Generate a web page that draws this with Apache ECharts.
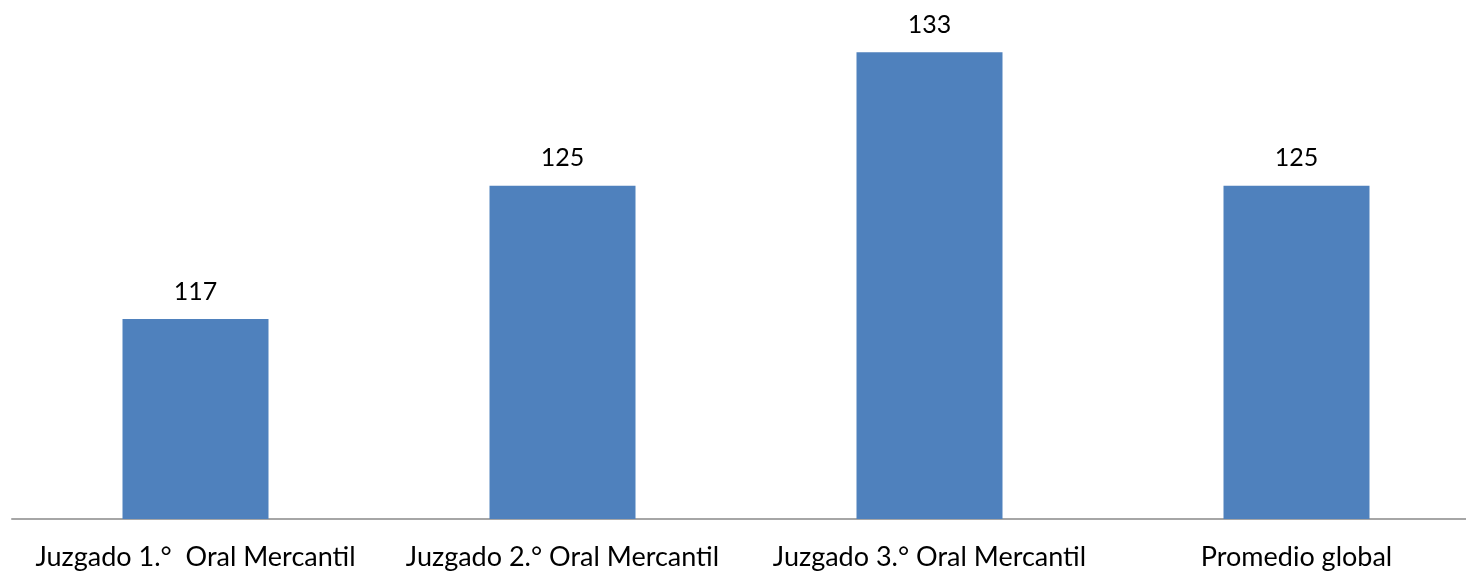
<!DOCTYPE html>
<html>
<head>
<meta charset="utf-8">
<script src="https://cdn.jsdelivr.net/npm/echarts@6/dist/echarts.min.js"></script>
<style>
  html, body { margin: 0; padding: 0; background: #fff; overflow: hidden; }
  #main { width: 1480px; height: 571px; }
</style>
</head>
<body>
<div id="main"></div>
<script>
// categorias y valores
var categories = [
  "Juzgado 1.°  Oral Mercantil",
  "Juzgado 2.° Oral Mercantil",
  "Juzgado 3.° Oral Mercantil",
  "Promedio global"
];
var values = [117, 125, 133, 125];

var myChart = echarts.init(document.getElementById("main"));

var option = {
  animation: false,
  textStyle: { fontFamily: "Lato, 'Open Sans', sans-serif" },
  // el area del grafico continua un poco fuera del borde derecho
  grid: { left: 12, top: 19, right: 0, bottom: 52, containLabel: false },
  xAxis: {
    type: "category",
    data: categories,
    axisLine: { show: true, lineStyle: { color: "#a6a6a6", width: 2 } },
    axisTick: { show: false },
    axisLabel: {
      color: "#000",
      fontSize: 27,
      margin: 25,
      interval: 0
    }
  },
  yAxis: {
    type: "value",
    min: 105,
    max: 135,
    show: false,
    splitLine: { show: false }
  },
  series: [
    {
      type: "bar",
      data: values,
      barWidth: 146,
      itemStyle: { color: "#4F81BD" },
      label: {
        show: true,
        position: "top",
        distance: 15,
        color: "#000",
        fontSize: 25
      }
    }
  ]
};

myChart.setOption(option);
</script>
</body>
</html>
